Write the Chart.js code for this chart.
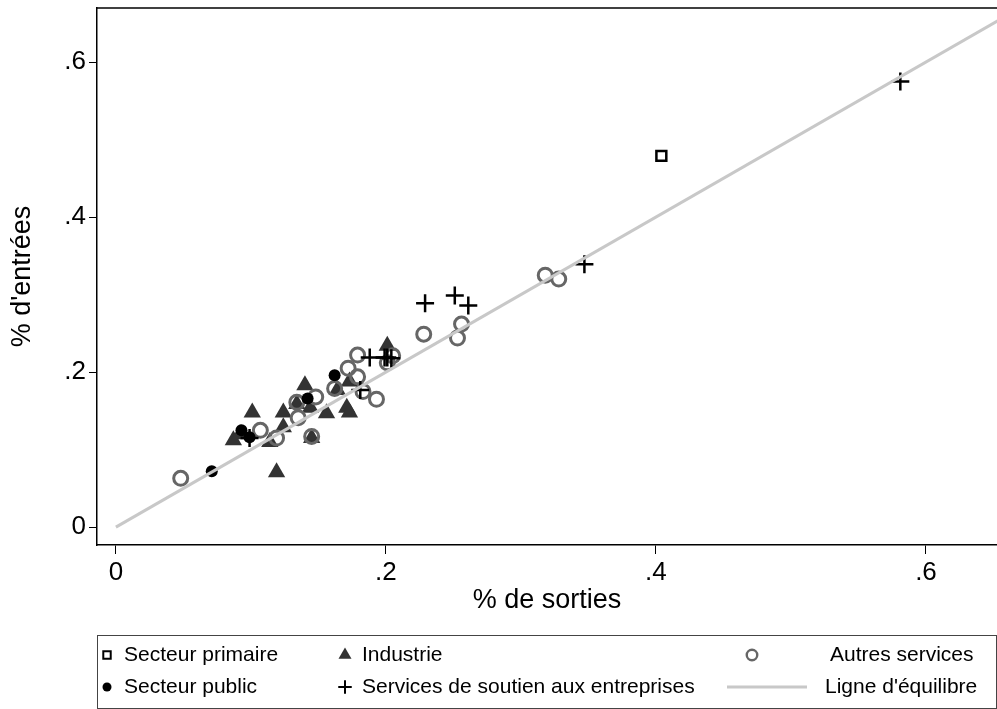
<!DOCTYPE html>
<html>
<head>
<meta charset="utf-8">
<script src="https://cdn.jsdelivr.net/npm/chart.js@4.4.0/dist/chart.umd.min.js"></script>
<style>
  html, body { margin: 0; padding: 0; background: #fff; }
  #wrap { width: 997px; height: 709px; position: relative; }
</style>
</head>
<body>
<div id="wrap"><canvas id="chart"></canvas></div>
<script>
// % de sorties (x) / % d'entrées (y)
const primaireX = [0.404];
const primaireY = [0.479];

const publicX = [0.071, 0.093, 0.099, 0.142, 0.162];
const publicY = [0.072, 0.125, 0.116, 0.166, 0.196];

const industrieX = [0.087, 0.092, 0.101, 0.114, 0.119, 0.124, 0.124, 0.134, 0.140,
                    0.144, 0.145, 0.156, 0.164, 0.171, 0.173, 0.173, 0.201];
const industrieY = [0.112, 0.120, 0.148, 0.110, 0.071, 0.148, 0.129, 0.159, 0.183,
                    0.154, 0.115, 0.147, 0.177, 0.154, 0.148, 0.188, 0.234];

const soutienX = [0.099, 0.188, 0.199, 0.201, 0.204, 0.181, 0.229, 0.251, 0.261, 0.347, 0.581];
const soutienY = [0.115, 0.219, 0.219, 0.219, 0.218, 0.177, 0.289, 0.299, 0.286, 0.339, 0.575];

const autresX = [0.048, 0.107, 0.119, 0.134, 0.135, 0.148, 0.145, 0.162, 0.172, 0.179,
                 0.179, 0.183, 0.193, 0.201, 0.205, 0.228, 0.253, 0.256, 0.318, 0.328];
const autresY = [0.063, 0.125, 0.115, 0.161, 0.141, 0.168, 0.117, 0.179, 0.205, 0.194,
                 0.222, 0.175, 0.165, 0.212, 0.221, 0.249, 0.244, 0.262, 0.325, 0.320];

const equilibre = [0, 0.66];

const xTicks = [0, 0.2, 0.4, 0.6];
const yTicks = [0, 0.2, 0.4, 0.6];

const FONT = "'Liberation Sans', Arial, sans-serif";

function pts(xs, ys) {
  return xs.map((x, i) => ({ x: x, y: ys[i] }));
}
function fmt(v) {
  return v === 0 ? '0' : String(Math.round(v * 10) / 10).replace('0.', '.');
}

const datasets = [
  { label: 'Secteur primaire', data: pts(primaireX, primaireY), pointStyle: 'rect',
    pointRadius: 7, backgroundColor: '#fff', borderColor: '#000', borderWidth: 2.5, order: 5 },
  { label: 'Industrie', data: pts(industrieX, industrieY), pointStyle: 'triangle',
    pointRadius: 10, backgroundColor: '#333', borderColor: '#333', borderWidth: 0, order: 4 },
  { label: 'Autres services', data: pts(autresX, autresY), pointStyle: 'circle',
    pointRadius: 7, backgroundColor: 'rgba(0,0,0,0)', borderColor: '#666', borderWidth: 3, order: 3 },
  { label: 'Secteur public', data: pts(publicX, publicY), pointStyle: 'circle',
    pointRadius: 6, backgroundColor: '#000', borderColor: '#000', borderWidth: 0, order: 2 },
  { label: 'Services de soutien aux entreprises', data: pts(soutienX, soutienY), pointStyle: 'cross',
    pointRadius: 9, backgroundColor: '#000', borderColor: '#000', borderWidth: 2.5, order: 1 },
  { label: "Ligne d'équilibre", data: equilibre.map(v => ({ x: v, y: v })), showLine: true,
    pointRadius: 0, borderColor: '#c8c8c8', borderWidth: 3, order: 0 }
];

// legend laid out like the Stata key: 3 columns, 2 rows
const legendItems = [
  { ds: 0, sx: 107, tx: 124, y: 655 },
  { ds: 1, sx: 345, tx: 362, y: 655 },
  { ds: 2, sx: 752, tx: 830, y: 655 },
  { ds: 3, sx: 107, tx: 124, y: 687 },
  { ds: 4, sx: 345, tx: 362, y: 687 },
  { ds: 5, sx: 767, tx: 825, y: 687 }
];

function noPad(s) {
  s.paddingLeft = 0; s.paddingRight = 0; s.paddingTop = 0; s.paddingBottom = 0;
}

const frameAndLegend = {
  id: 'frameAndLegend',
  afterDatasetsDraw(chart) {
    const { ctx, chartArea: a } = chart;
    ctx.save();
    ctx.strokeStyle = '#000';
    ctx.lineWidth = 1.5;
    ctx.beginPath();
    ctx.moveTo(a.left, a.top);
    ctx.lineTo(a.right, a.top);
    ctx.stroke();
    ctx.restore();
  },
  afterDraw(chart) {
    const ctx = chart.ctx;
    ctx.save();
    ctx.strokeStyle = '#444';
    ctx.lineWidth = 1;
    ctx.strokeRect(97.5, 635.5, 899, 73);
    ctx.font = '21px ' + FONT;
    ctx.textBaseline = 'middle';
    legendItems.forEach(it => {
      const d = chart.data.datasets[it.ds];
      if (d.showLine) {
        ctx.strokeStyle = d.borderColor;
        ctx.lineWidth = d.borderWidth;
        ctx.beginPath();
        ctx.moveTo(it.sx - 40, it.y);
        ctx.lineTo(it.sx + 40, it.y);
        ctx.stroke();
      } else {
        const r = d.pointRadius * 0.75;
        const bw = d.borderWidth ? Math.max(2, d.borderWidth * 0.8) : 0;
        ctx.fillStyle = d.backgroundColor;
        ctx.strokeStyle = d.borderColor;
        ctx.lineWidth = bw;
        Chart.helpers.drawPoint(ctx, { pointStyle: d.pointStyle, radius: r, rotation: 0,
          borderWidth: bw }, it.sx, it.y);
      }
      ctx.fillStyle = '#000';
      ctx.fillText(d.label, it.tx, it.y);
    });
    ctx.restore();
  }
};

new Chart(document.getElementById('chart'), {
  type: 'scatter',
  data: { datasets: datasets },
  plugins: [frameAndLegend],
  options: {
    responsive: true,
    maintainAspectRatio: false,
    animation: false,
    events: [],
    layout: { autoPadding: false, padding: { left: 0, right: 0, top: 8, bottom: 74 } },
    plugins: { legend: { display: false }, tooltip: { enabled: false } },
    scales: {
      x: {
        type: 'linear',
        min: -0.014,
        max: 0.6526,
        afterBuildTicks: s => { s.ticks = xTicks.map(v => ({ value: v })); },
        afterFit: s => { s.height = 90; noPad(s); },
        ticks: { callback: v => fmt(v), font: { size: 26, family: FONT }, color: '#000',
                 padding: 3, maxRotation: 0, autoSkip: false },
        grid: { drawOnChartArea: false, drawTicks: true, tickLength: 9, color: '#000', tickWidth: 1 },
        border: { display: true, color: '#000', width: 1.5 },
        title: { display: true, text: '% de sorties', color: '#000',
                 font: { size: 27, family: FONT }, padding: { top: 0, bottom: 18 } }
      },
      y: {
        type: 'linear',
        min: -0.023,
        max: 0.6697,
        afterBuildTicks: s => { s.ticks = yTicks.map(v => ({ value: v })); },
        afterFit: s => { s.width = 97; noPad(s); },
        ticks: { callback: v => fmt(v), font: { size: 26, family: FONT }, color: '#000',
                 padding: 3, autoSkip: false },
        grid: { drawOnChartArea: false, drawTicks: true, tickLength: 8, color: '#000', tickWidth: 1 },
        border: { display: true, color: '#000', width: 1.5 },
        title: { display: true, text: "% d'entrées", color: '#000',
                 font: { size: 27, family: FONT }, padding: { top: 6, bottom: 0 } }
      }
    }
  }
});
</script>
</body>
</html>
